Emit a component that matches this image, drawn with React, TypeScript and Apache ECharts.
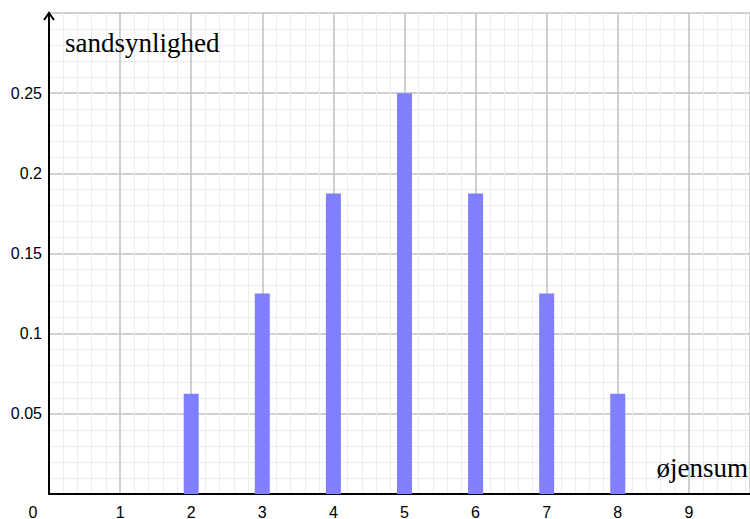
import React, { useEffect, useRef } from "react";
import * as echarts from "echarts";

const sums = [2, 3, 4, 5, 6, 7, 8];
const probabilities = [0.0625, 0.125, 0.1875, 0.25, 0.1875, 0.125, 0.0625];
const yAxisTitle = "sandsynlighed";
const xAxisTitle = "øjensum";

export default function App() {
  const ref = useRef<HTMLDivElement>(null);
  useEffect(() => {
    if (!ref.current) return;
    const chart = echarts.init(ref.current, null, { renderer: "svg" });
    const serif = "Liberation Serif";
    const sans = "Liberation Sans";
    chart.setOption({
      animation: false,
      backgroundColor: "#ffffff",
      grid: {
        left: 49,
        right: 0,
        top: 13,
        bottom: 25,
        containLabel: false,
        outerBoundsMode: "none",
      },
      xAxis: {
        type: "value",
        min: 0,
        max: 9.86,
        interval: 1,
        axisLine: { show: true, onZero: false, lineStyle: { color: "#000", width: 2 } },
        axisTick: { show: false },
        axisLabel: {
          color: "#000",
          fontFamily: sans,
          fontSize: 16,
          lineHeight: 14,
          margin: 11,
          showMaxLabel: false,
          formatter: (v: number) => (v === 0 || v > 9.5 ? "" : String(Math.round(v))),
        },
        splitLine: { show: true, lineStyle: { color: "#c0c0c0", width: 1.5 } },
        minorTick: { show: false, splitNumber: 5 },
        minorSplitLine: { show: true, lineStyle: { color: "#ececec", width: 1 } },
      },
      yAxis: {
        type: "value",
        min: 0,
        max: 0.3,
        interval: 0.05,
        axisLine: { show: true, onZero: false, lineStyle: { color: "#000", width: 2 } },
        axisTick: { show: false },
        axisLabel: {
          color: "#000",
          fontFamily: sans,
          fontSize: 16,
          margin: 7,
          formatter: (v: number) => {
            const r = parseFloat(v.toFixed(2));
            if (r === 0 || r >= 0.3) return "";
            return String(r);
          },
        },
        splitLine: { show: true, lineStyle: { color: "#c0c0c0", width: 1.5 } },
        minorTick: { show: false, splitNumber: 5 },
        minorSplitLine: { show: true, lineStyle: { color: "#ececec", width: 1 } },
      },
      series: [
        {
          type: "bar",
          data: sums.map((s, i) => [s, probabilities[i]]),
          barWidth: 15,
          itemStyle: { color: "#7f7fff" },
          z: 5,
        },
      ],
      graphic: [
        {
          type: "polyline",
          shape: { points: [[44, 20], [49, 13], [54, 20]] },
          style: { stroke: "#000", lineWidth: 2, fill: "none" },
          z: 100,
        },
        {
          type: "text",
          x: 65,
          y: 43,
          style: {
            text: yAxisTitle,
            fontSize: 27,
            fontFamily: serif,
            fill: "#000",
            align: "left",
            verticalAlign: "middle",
          },
          z: 100,
        },
        {
          type: "text",
          x: 748,
          y: 468,
          style: {
            text: xAxisTitle,
            fontSize: 27,
            fontFamily: serif,
            fill: "#000",
            align: "right",
            verticalAlign: "middle",
          },
          z: 100,
        },
        {
          type: "text",
          x: 33,
          y: 512,
          style: {
            text: "0",
            fontSize: 16,
            lineHeight: 14,
            fontFamily: sans,
            fill: "#000",
            align: "center",
            verticalAlign: "middle",
          },
          z: 100,
        },
      ],
    });
    return () => chart.dispose();
  }, []);
  return (
    <div
      ref={ref}
      style={{ position: "fixed", left: 0, top: 0, width: 750, height: 519 }}
    />
  );
}
